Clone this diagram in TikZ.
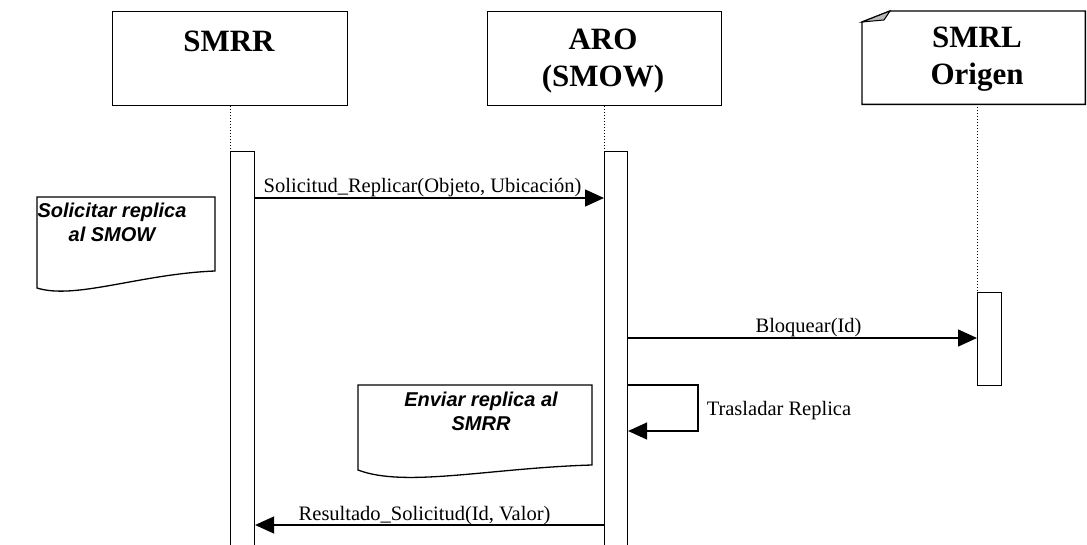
\documentclass[tikz,border=0pt]{standalone}
\usepackage{fontspec}
\setmainfont{Liberation Serif}
\newfontfamily\notefont{Liberation Sans}
\usetikzlibrary{arrows.meta}
\tikzset{
  obj/.style={draw, line width=1.4pt, fill=white, inner sep=0},
  title/.style={font=\fontsize{31}{37}\selectfont\bfseries, align=center, inner sep=0},
  actbar/.style={draw, line width=1.1pt, fill=white, inner sep=0, anchor=north west},
  life/.style={dotted, line width=1pt},
  msg/.style={line width=1.3pt, -{Triangle[length=19pt,width=17pt]}},
  lbl/.style={font=\fontsize{20.5}{24}\selectfont, inner sep=0},
  noteshape/.style={line width=1.3pt, fill=white},
  notetxt/.style={font=\notefont\bfseries\itshape\fontsize{20}{24}\selectfont, align=center, inner sep=0},
}
\begin{document}
\begin{tikzpicture}[x=1pt,y=-1pt]
\useasboundingbox[fill=white] (0,0) rectangle (1087,545);

% object boxes
\node[obj, minimum width=235pt, minimum height=94pt, anchor=north west] (smrr) at (112,11) {};
\node[obj, minimum width=234pt, minimum height=94pt, anchor=north west] (aro) at (487,11) {};
\node[inner sep=0, minimum width=223pt, minimum height=93pt, anchor=north west] (smrl) at (862,11) {};
\draw[line width=1.4pt, fill=white] (862,22) -- (890,11) -- (smrl.north east) -- (smrl.south east) -- (smrl.south west) -- cycle;
\draw[line width=1pt, fill=gray!55] (862,22) -- (884,20) -- (890,11) -- cycle;

\node[title, anchor=base] (smrrT) at (229,52) {SMRR};
\node[title, anchor=base] (aroT) at (603,87) {ARO\\(SMOW)};
\node[title, anchor=base] (smrlT) at (977,85) {SMRL\\Origen};

% activation bars
\node[actbar, minimum width=24pt, minimum height=400pt] (smrrAct) at (230,151) {};
\node[actbar, minimum width=23pt, minimum height=400pt] (aroAct) at (604,151) {};
\node[actbar, minimum width=24pt, minimum height=93pt] (smrlAct) at (977,292) {};

% lifelines
\draw[life] (smrrAct.north west |- smrr.south) -- (smrrAct.north west);
\draw[life] (aroAct.north west |- aro.south) -- (aroAct.north west);
\draw[life] (smrlAct.north west |- smrl.south) -- (smrlAct.north west);

% messages
\draw[msg] ([yshift=-47pt]smrrAct.north east) -- ([yshift=-47pt]aroAct.north west)
  node[lbl, pos=0.5, anchor=base, xshift=-7pt, yshift=5pt] (m1) {Solicitud\_Replicar(Objeto, Ubicación)};
\draw[msg] ([yshift=-187pt]aroAct.north east) -- ([yshift=-46pt]smrlAct.north west)
  node[lbl, pos=0.5, anchor=base, xshift=6pt, yshift=6pt] (m2) {Bloquear(Id)};
\draw[msg] ([yshift=-234pt]aroAct.north east) -- ++(70,0) -- ++(0,46)
  node[lbl, pos=0.5, anchor=base west, xshift=8pt, yshift=-7pt] (m3) {Trasladar Replica}
  -- ([yshift=-280pt]aroAct.north east);
\draw[msg] ([yshift=-374pt]aroAct.north west) -- ([yshift=-374pt]smrrAct.north east)
  node[lbl, pos=0.5, anchor=base, xshift=-5pt, yshift=5pt] (m4) {Resultado\_Solicitud(Id, Valor)};

% notes
\draw[noteshape] (37,197) -- (215,197) -- (215,271) .. controls (140,274) and (75,300) .. (37,288) -- cycle;
\node[notetxt, anchor=base] (n1) at (112,242) {Solicitar replica\\al SMOW};
\draw[noteshape] (358,385) -- (592,385) -- (592,465) .. controls (490,468) and (405,488) .. (358,470) -- cycle;
\node[notetxt, anchor=base] (n2) at (481,430) {Enviar replica al\\SMRR};
\end{tikzpicture}
\end{document}
